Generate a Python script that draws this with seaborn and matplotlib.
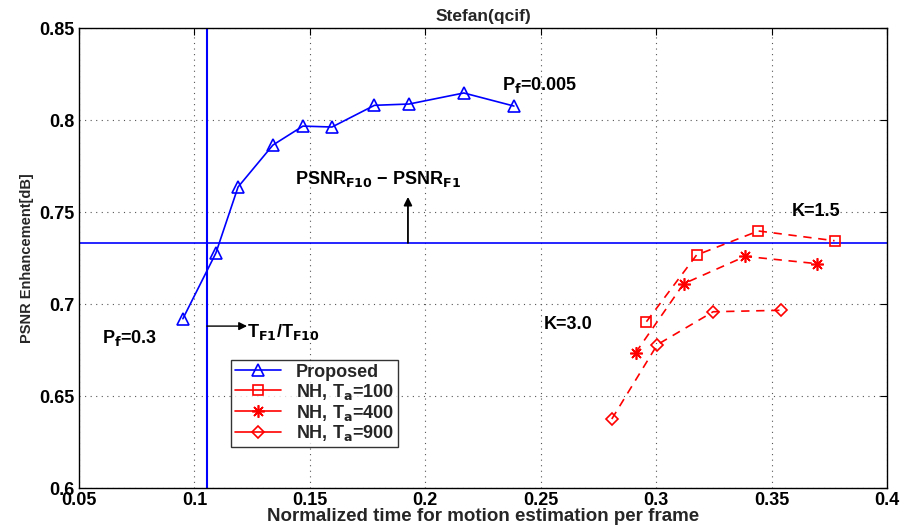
import matplotlib
matplotlib.use("Agg")
import matplotlib.pyplot as plt
import seaborn as sns
import pandas as pd

sns.set_theme(style="white")
plt.rcParams['font.family'] = ['Liberation Sans', 'DejaVu Sans']
plt.rcParams['font.weight'] = 'bold'

prop_x = [0.095, 0.1093, 0.1189, 0.134, 0.147, 0.1596, 0.178, 0.193, 0.2167, 0.2384]
prop_y = [0.692, 0.7277, 0.7636, 0.7864, 0.7967, 0.7962, 0.808, 0.8087, 0.8147, 0.8076]
nh100_x = [0.2958, 0.3175, 0.3443, 0.3773]
nh100_y = [0.6904, 0.7266, 0.7397, 0.7344]
nh400_x = [0.2911, 0.3119, 0.3386, 0.3699]
nh400_y = [0.6735, 0.711, 0.7259, 0.7219]
nh900_x = [0.2808, 0.3005, 0.3247, 0.3542]
nh900_y = [0.6375, 0.6779, 0.6958, 0.6966]
v_line = 0.1054
h_line = 0.7332
labels = ["Proposed", r"NH, T$_\mathbf{a}$=100", r"NH, T$_\mathbf{a}$=400", r"NH, T$_\mathbf{a}$=900"]

fig = plt.figure(figsize=(9.1, 5.29), dpi=100)
ax = fig.add_axes([0.0868, 0.0775, 0.8879, 0.8695])

ax.axvline(v_line, color='#0000ff', lw=1.5, zorder=1)
ax.axhline(h_line, color='#0000ff', lw=1.2, zorder=1)

series = [
    (prop_x, prop_y, labels[0], '#0000ff', '^', '-', 9),
    (nh100_x, nh100_y, labels[1], '#ff0000', 's', '--', 7),
    (nh400_x, nh400_y, labels[2], '#ff0000', (8, 2, 0), '--', 9),
    (nh900_x, nh900_y, labels[3], '#ff0000', 'D', '--', 6.5),
]
for xs, ys, lab, col, mk, ls, ms in series:
    df = pd.DataFrame({'x': xs, 'y': ys})
    kw = {}
    if ls == '--':
        kw['dashes'] = (5, 4)
    sns.lineplot(data=df, x='x', y='y', ax=ax, sort=False, color=col, lw=1.2,
                 marker=mk, markersize=ms, markerfacecolor='none',
                 markeredgecolor=col, markeredgewidth=1.2, label=lab, **kw)

ax.set_xlim(0.05, 0.4)
ax.set_ylim(0.6, 0.85)
ax.set_xticks([0.05, 0.1, 0.15, 0.2, 0.25, 0.3, 0.35, 0.4])
ax.set_xticklabels(['0.05', '0.1', '0.15', '0.2', '0.25', '0.3', '0.35', '0.4'])
ax.set_yticks([0.6, 0.65, 0.7, 0.75, 0.8, 0.85])
ax.set_yticklabels(['0.6', '0.65', '0.7', '0.75', '0.8', '0.85'])
ax.grid(True, color='#555555', linestyle=(0, (1, 4)), lw=0.8)
ax.tick_params(direction='in', top=True, right=True, length=5, width=0.8,
               labelsize=13, pad=3, colors='black')
for lab in ax.get_xticklabels() + ax.get_yticklabels():
    lab.set_fontweight('bold')
for sp in ax.spines.values():
    sp.set_color('black')
    sp.set_linewidth(1.0)

ax.set_xlabel('Normalized time for motion estimation per frame', fontsize=13.5,
              fontweight='bold', labelpad=-1)
ax.set_ylabel('PSNR Enhancement[dB]', fontsize=10.5, fontweight='bold', labelpad=4)
ax.set_title('Stefan(qcif)', fontsize=12.5, fontweight='bold', pad=5)

tk = dict(fontsize=13, fontweight='bold', color='black')
ax.text(0.2332, 0.8163, r'P$_\mathbf{f}$=0.005', **tk)
ax.text(0.060, 0.679, r'P$_\mathbf{f}$=0.3', **tk)
ax.text(0.1435, 0.765, r'PSNR$_\mathbf{F10}$ − PSNR$_\mathbf{F1}$', **tk)
ax.text(0.3588, 0.7478, 'K=1.5', **tk)
ax.text(0.2514, 0.6864, 'K=3.0', **tk)
ax.text(0.1228, 0.682, r'T$_\mathbf{F1}$/T$_\mathbf{F10}$', **tk)
ax.annotate('', xy=(0.1925, 0.7582), xytext=(0.1925, h_line),
            arrowprops=dict(arrowstyle='-|>', color='black', lw=1.3, mutation_scale=12,
                            shrinkA=0, shrinkB=0))
ax.annotate('', xy=(0.1228, 0.688), xytext=(v_line, 0.688),
            arrowprops=dict(arrowstyle='-|>', color='black', lw=1.0, mutation_scale=12,
                            shrinkA=0, shrinkB=0))

leg = ax.legend(loc='upper left', bbox_to_anchor=(0.188, 0.278), frameon=True,
                fancybox=False, edgecolor='black', fontsize=13, handlelength=2.6,
                borderpad=0.2, labelspacing=0.05, handletextpad=0.8, borderaxespad=0)
leg.get_frame().set_linewidth(1.0)
for t in leg.get_texts():
    t.set_fontweight('bold')
for h in leg.get_lines():
    h.set_linestyle('-')

fig.savefig('out.png', dpi=100)
